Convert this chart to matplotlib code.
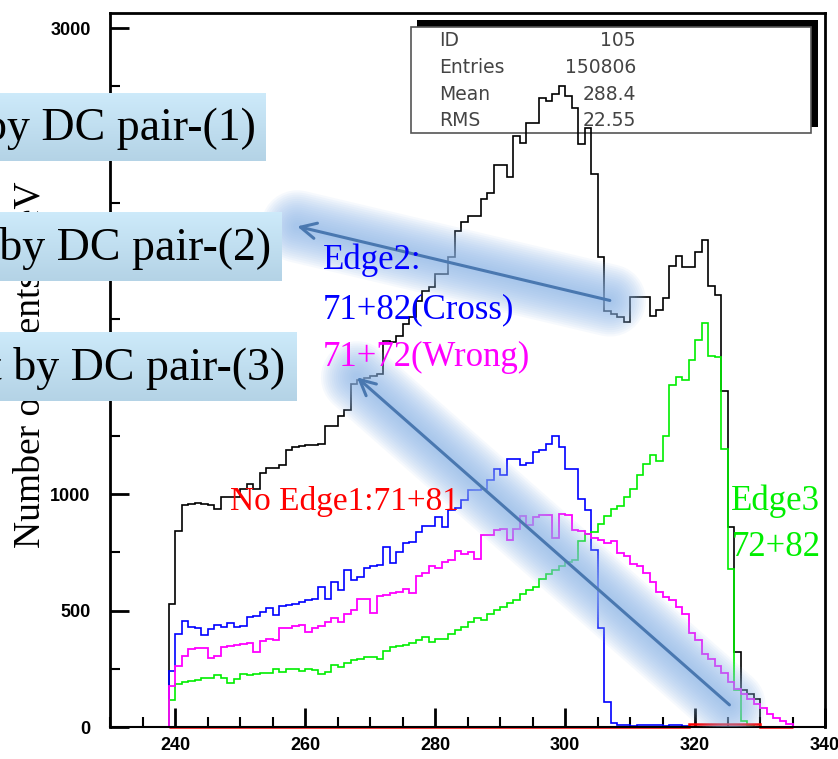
import matplotlib
matplotlib.use("Agg")
import matplotlib.pyplot as plt
import numpy as np
from matplotlib.patches import Rectangle
from matplotlib.colors import LinearSegmentedColormap

# bin edges: 1 keV bins from 230 to 340
edges = np.arange(230, 341)
first_bin = 239

black = [530, 841, 951, 957, 963, 957, 951, 937, 987, 987,
         987, 1020, 1041, 1020, 1090, 1111, 1111, 1126, 1190, 1200,
         1206, 1211, 1211, 1216, 1291, 1291, 1337, 1359, 1473, 1490,
         1500, 1505, 1516, 1659, 1652, 1677, 1730, 1760, 1830, 1873,
         1887, 1944, 1944, 2016, 2130, 2166, 2194, 2194, 2266, 2294,
         2411, 2411, 2361, 2537, 2509, 2594, 2594, 2699, 2687, 2716,
         2751, 2709, 2659, 2501, 2573, 2373, 2016, 1787, 1775, 1760,
         1740, 1845, 1848, 1845, 1765, 1792, 1843, 1980, 2023, 1975,
         1975, 2037, 2090, 1894, 1856, 1444, 859, 323, 159, 140,
         120]

blue = [241, 401, 456, 430, 427, 394, 419, 437, 430, 447,
        430, 434, 473, 477, 494, 511, 480, 520, 523, 530,
        537, 544, 551, 601, 551, 623, 587, 676, 633, 644,
        684, 691, 697, 773, 704, 751, 790, 794, 837, 861,
        861, 901, 859, 930, 940, 973, 1016, 1016, 1023, 1060,
        1106, 1080, 1151, 1151, 1125, 1133, 1180, 1187, 1216, 1249,
        1201, 1109, 1109, 977, 930, 759, 423, 109, 19, 8,
        10, 6, 9, 8, 7, 9, 6, 10, 8, 4]

magenta = [176, 261, 304, 333, 337, 340, 297, 304, 344, 349,
           351, 356, 359, 323, 369, 376, 373, 423, 427, 434,
           437, 409, 427, 433, 449, 466, 451, 487, 501, 551,
           551, 491, 561, 566, 576, 580, 594, 577, 647, 659,
           690, 684, 709, 716, 754, 744, 751, 723, 823, 823,
           845, 851, 804, 851, 905, 865, 901, 909, 909, 813,
           916, 909, 844, 840, 830, 813, 801, 791, 799, 746,
           735, 701, 690, 661, 623, 580, 559, 544, 516, 487,
           405, 373, 315, 290, 262, 230, 194, 165, 140, 120,
           98, 80, 55, 38, 25, 12]

green = [116, 184, 194, 199, 201, 211, 209, 223, 211, 190,
         206, 226, 223, 226, 230, 230, 251, 234, 251, 247,
         241, 251, 244, 227, 237, 266, 259, 276, 287, 294,
         299, 299, 294, 327, 344, 349, 354, 361, 373, 387,
         366, 376, 376, 401, 416, 430, 449, 466, 459, 487,
         501, 516, 533, 544, 573, 587, 601, 634, 655, 673,
         690, 709, 716, 800, 830, 837, 870, 905, 937, 950,
         987, 1023, 1080, 1130, 1166, 1144, 1250, 1469, 1504, 1490,
         1576, 1662, 1733, 1594, 1590, 1194, 680, 160, 25, 10]

red = [0, 0, 0, 0, 0, 0, 0, 0, 0, 0, 0, 0, 0, 0, 0, 0, 0, 0, 0, 0,
       0, 0, 0, 0, 0, 0, 0, 0, 0, 0, 0, 0, 0, 0, 0, 0, 0, 0, 0, 0,
       0, 0, 0, 0, 0, 0, 0, 0, 0, 0, 0, 0, 0, 0, 0, 0, 0, 0, 0, 0,
       0, 0, 0, 0, 0, 0, 0, 0, 0, 0, 0, 0, 0, 0, 0, 0, 0, 0, 0, 0,
       15, 15, 15, 15, 15, 15, 15, 15, 15, 15, 15, 0, 0, 0, 0, 0]

stats_labels = ["ID", "Entries", "Mean", "RMS"]
stats_values = ["105", "150806", "288.4", "22.55"]
box_texts = ["by DC pair-(1)", "t by DC pair-(2)", "nt by DC pair-(3)"]


def full(vals):
    h = np.zeros(len(edges) - 1)
    i0 = first_bin - edges[0]
    h[i0:i0 + len(vals)] = vals
    return h


W, H = 838, 759
fig = plt.figure(figsize=(W / 100, H / 100), dpi=100)
fx = lambda px: px / W
fy = lambda py: 1 - py / H

ax = fig.add_axes([fx(110), 32 / H, 715 / W, 714 / H])
ax.set_xlim(230, 340)
ax.set_ylim(0, 3065)

ax.stairs(full(black), edges, color="black", lw=1.2, zorder=2, clip_on=False)
ax.stairs(full(blue), edges, color="#0000ff", lw=1.2, zorder=2.1, clip_on=False)
ax.stairs(full(green), edges, color="#00ee00", lw=1.2, zorder=2.2, clip_on=False)
ax.stairs(full(magenta), edges, color="#ff00ff", lw=1.3, zorder=2.3, clip_on=False)
red_edges = np.arange(first_bin, first_bin + len(red) + 1)
ax.stairs(red, red_edges, color="#ff0000", lw=1.8, zorder=2.4, clip_on=False)

# axis styling (PAW look)
for s in ["left", "top", "right"]:
    ax.spines[s].set_linewidth(2)
ax.spines["bottom"].set_linewidth(1.5)
ax.set_xticks(np.arange(240, 341, 20))
ax.set_xticks(np.arange(230, 341, 5), minor=True)
ax.set_yticks(np.arange(0, 3001, 500))
ax.set_yticks(np.arange(0, 3001, 250), minor=True)
ax.tick_params(which="major", direction="in", length=14, width=2, pad=7)
ax.tick_params(which="minor", direction="in", length=7, width=1.5)
ax.tick_params(axis="y", which="major", pad=14)
for lab in ax.get_xticklabels() + ax.get_yticklabels():
    lab.set_fontfamily("Liberation Sans")
    lab.set_fontweight("bold")
    lab.set_fontsize(13)

# stats box with shadow
ax.add_patch(Rectangle((fx(417), fy(127)), fx(818) - fx(417), fy(20) - fy(127),
                       transform=fig.transFigure, facecolor="black",
                       edgecolor="none", clip_on=False, zorder=1))
ax.add_patch(Rectangle((fx(411), fy(133)), fx(811) - fx(411), fy(27) - fy(133),
                       transform=fig.transFigure, facecolor="white",
                       edgecolor="#555555", lw=1.2, clip_on=False, zorder=1.1))
for i, (lab, val) in enumerate(zip(stats_labels, stats_values)):
    py = 41 + i * 26.5
    ax.text(fx(439), fy(py), lab, transform=fig.transFigure, ha="left",
            va="center", fontsize=13.5, color="#444444", zorder=1.5)
    ax.text(fx(636), fy(py), val, transform=fig.transFigure, ha="right",
            va="center", fontsize=13.5, color="#444444", zorder=1.5)

# glowing arrows
glow_col = "#8fb8ec"
arrows = [((306.9, 1831), (258.8, 2149)), ((325.3, 95), (268.0, 1501))]
for (x0, y0), (x1, y1) in arrows:
    for w in np.linspace(52, 6, 16):
        ax.plot([x0, x1], [y0, y1], color=glow_col, lw=w, alpha=0.08,
                solid_capstyle="round", zorder=3)
    ax.annotate("", xy=(x1, y1), xytext=(x0, y0),
                arrowprops=dict(arrowstyle="->", color="#4a78b0", lw=2.2,
                                mutation_scale=28, shrinkA=0, shrinkB=0),
                zorder=3.5)

serif = "Liberation Serif"
ax.text(262.8, 2003, "Edge2:", color="#0000ff", fontsize=25, family=serif,
        va="center", zorder=4)
ax.text(262.8, 1792, "71+82(Cross)", color="#0000ff", fontsize=25, family=serif,
        va="center", zorder=4)
ax.text(262.8, 1586, "71+72(Wrong)", color="#ff00ff", fontsize=25, family=serif,
        va="center", zorder=4)
ax.text(248.4, 967, "No Edge1:71+81", color="#ff0000", fontsize=24, family=serif,
        va="center", zorder=4)
ax.text(325.6, 967, "Edge3", color="#00ee00", fontsize=25, family=serif,
        va="center", zorder=4)
ax.text(325.6, 769, "72+82", color="#00ee00", fontsize=25, family=serif,
        va="center", zorder=4)

# y label (partly hidden by the boxes)
fig.text(fx(30), fy(365), "Number of Events / keV", rotation=90, ha="center",
         va="center", fontsize=27, family=serif, zorder=2)

# blue gradient boxes on top
cmap = LinearSegmentedColormap.from_list("box", ["#cdeafa", "#b4d3e6"])
grad = np.linspace(0, 1, 64).reshape(-1, 1)
boxes = [(92.7, 160.7, 265.7), (212, 281, 281), (332, 401, 296)]
for (top, bot, right), txt in zip(boxes, box_texts):
    bax = fig.add_axes([0, fy(bot), fx(right), (bot - top) / H], zorder=5)
    bax.imshow(grad, aspect="auto", cmap=cmap, extent=[0, 1, 0, 1], origin="upper")
    bax.set_xlim(0, 1)
    bax.set_ylim(0, 1)
    bax.axis("off")
    bax.text(0.964, 0.47, txt, ha="right", va="center", fontsize=33, family=serif,
             color="black")

fig.savefig("out.png", dpi=100)
